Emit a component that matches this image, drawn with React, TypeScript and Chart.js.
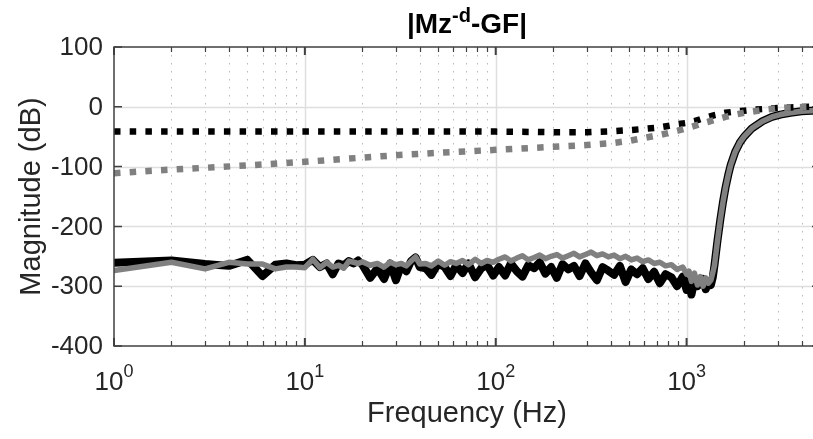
import React, { useEffect, useRef } from "react";
import { Chart, registerables } from "chart.js";
Chart.register(...registerables);

// ---------- data ----------
const solidFreq = [
  1, 2, 3, 4, 5, 6, 7, 8, 9, 10, 11, 12, 13, 14, 15, 16, 17, 18, 19, 20,
  22, 24, 26, 28, 30, 32, 34, 36, 38, 40,
  43, 46, 50, 54, 58, 62, 67, 72, 78, 84, 90, 97,
  104, 112, 120, 129, 138, 148, 159, 170, 182, 195, 209, 224, 240, 257, 275, 295, 316, 339, 363, 389,
  417, 447, 479, 513, 550, 589, 631, 676, 724, 776, 832, 891, 955, 1000, 1030, 1060, 1100, 1140, 1180,
  1220, 1260, 1300, 1340, 1370,
  1400, 1450, 1500, 1550, 1600, 1650, 1700, 1800, 1900, 2000, 2200, 2500, 2800, 3100, 3500, 4000, 4500, 5000,
];
const blackSolid = [
  -261, -257, -263, -266, -256, -283, -264, -262, -265, -264, -256, -268, -262, -280, -262, -265, -258, -262, -257, -264,
  -286, -270, -288, -262, -290, -265, -275, -258, -252, -268,
  -270, -281, -262, -268, -283, -265, -278, -262, -285, -270, -264, -282,
  -268, -282, -262, -275, -284, -265, -270, -260, -279, -268, -286, -263, -272, -266, -283, -262, -277, -290, -268, -274,
  -281, -266, -293, -272, -280, -270, -288, -276, -295, -280, -285, -300, -284, -306, -292, -314, -290, -300, -295,
  -288, -305, -292, -298, -286,
  -265, -225, -190, -160, -135, -115, -98, -75, -60, -50, -36, -24, -17, -13, -10, -7.5, -6.5, -6,
];
const graySolid = [
  -274, -260, -271, -260, -263, -263, -271, -268, -268, -269, -255, -269, -260, -268, -265, -270, -258, -260, -262, -259,
  -265, -262, -268, -260, -264, -262, -266, -258, -251, -263,
  -262, -266, -258, -265, -259, -262, -257, -264, -255, -262, -257, -260,
  -255, -251, -258, -253, -249, -256, -252, -248, -254, -250, -247, -253, -249, -245, -251, -247, -243, -249, -246, -251,
  -248, -254, -250, -256, -253, -259, -256, -262, -260, -266, -264, -272, -268, -280, -275, -292, -278, -298, -284,
  -300, -286, -295, -290, -278,
  -265, -225, -190, -160, -135, -115, -98, -75, -60, -50, -36, -24, -17, -13, -10, -7.5, -6.5, -6,
];
const dotFreq = [
  1, 2, 3, 5, 10, 20, 30, 50, 100, 150, 200, 300, 400, 500, 600, 700, 800, 900, 1000,
  1100, 1200, 1300, 1400, 1500, 1600, 1800, 2000, 2200, 2600, 3000, 3500, 4000, 4500, 5000,
];
const blackDotted = [
  -41.5, -41.5, -41.5, -41.5, -41.5, -41.5, -41.5, -41.5, -41.5, -42, -42.5, -42.5, -41, -39, -37, -35, -32, -29, -27,
  -24, -20, -17, -14, -12, -10, -8, -6.5, -5, -3.5, -2, -1, -0.5, 0, 0,
];
const grayDotted = [
  -111, -105, -102, -98, -92, -85, -81, -77, -72, -69, -67, -64, -61, -57, -52, -48, -44, -40, -36,
  -32, -28, -25, -22, -19.5, -17, -13, -10, -8, -4.5, -2.5, -1, -0.5, 0, 0,
];
const yTicks = [100, 0, -100, -200, -300, -400];
const xDecades = [1, 10, 100, 1000];
const xDecadeExps = ["0", "1", "2", "3"];
const xMinorMult = [2, 3, 4, 5, 6, 7, 8, 9];
const titleParts = ["|Mz", "-d", "-GF|"];
const xLabel = "Frequency (Hz)";
const yLabel = "Magnitude (dB)";

const FONT = '"Liberation Sans", Arial, Helvetica, sans-serif';
const TICK_SIZE = 26;
const LABEL_SIZE = 29;
const TITLE_SIZE = 28;
const AX_COLOR = "#404040";
const TXT_COLOR = "#262626";

const pts = (xs: number[], ys: number[]) => xs.map((x, i) => ({ x, y: ys[i] }));

const matlabPlugin = {
  id: "matlabAxes",
  beforeDatasetsDraw(chart: any) {
    const { ctx, chartArea: a, scales } = chart;
    const x = scales.x, y = scales.y;
    ctx.save();
    ctx.strokeStyle = "#b8b8b8";
    ctx.lineWidth = 1;
    ctx.setLineDash([1.5, 6.5]);
    for (const d of xDecades) {
      for (const m of xMinorMult) {
        const v = d * m;
        if (v >= 5000) continue;
        const px = Math.round(x.getPixelForValue(v)) + 0.5;
        ctx.beginPath();
        ctx.moveTo(px, a.top);
        ctx.lineTo(px, a.bottom);
        ctx.stroke();
      }
    }
    ctx.setLineDash([]);
    ctx.strokeStyle = "#dedede";
    ctx.lineWidth = 1.5;
    for (const d of xDecades) {
      if (d === 1) continue;
      const px = Math.round(x.getPixelForValue(d)) + 0.5;
      ctx.beginPath();
      ctx.moveTo(px, a.top);
      ctx.lineTo(px, a.bottom);
      ctx.stroke();
    }
    for (const t of yTicks) {
      if (t === 100 || t === -400) continue;
      const py = Math.round(y.getPixelForValue(t)) + 0.5;
      ctx.beginPath();
      ctx.moveTo(a.left, py);
      ctx.lineTo(a.right, py);
      ctx.stroke();
    }
    ctx.restore();
  },
  afterDatasetsDraw(chart: any) {
    const { ctx, chartArea: a, scales } = chart;
    const x = scales.x, y = scales.y;
    ctx.save();
    ctx.strokeStyle = AX_COLOR;
    ctx.lineWidth = 1.5;
    ctx.strokeRect(a.left, a.top, a.right - a.left, a.bottom - a.top);
    for (const d of xDecades) {
      const px = x.getPixelForValue(d);
      ctx.lineWidth = 2;
      ctx.beginPath();
      ctx.moveTo(px, a.bottom);
      ctx.lineTo(px, a.bottom - 8);
      ctx.moveTo(px, a.top);
      ctx.lineTo(px, a.top + 8);
      ctx.stroke();
      ctx.lineWidth = 1.2;
      for (const m of xMinorMult) {
        const v = d * m;
        if (v >= 5000) continue;
        const qx = Math.round(x.getPixelForValue(v)) + 0.5;
        ctx.beginPath();
        ctx.moveTo(qx, a.bottom);
        ctx.lineTo(qx, a.bottom - 5);
        ctx.moveTo(qx, a.top);
        ctx.lineTo(qx, a.top + 5);
        ctx.stroke();
      }
    }
    ctx.lineWidth = 1.5;
    for (const t of yTicks) {
      const py = y.getPixelForValue(t);
      ctx.beginPath();
      ctx.moveTo(a.left, py);
      ctx.lineTo(a.left + 8, py);
      ctx.moveTo(a.right, py);
      ctx.lineTo(a.right - 8, py);
      ctx.stroke();
    }
    ctx.restore();
  },
  afterDraw(chart: any) {
    const { ctx, chartArea: a, scales } = chart;
    const x = scales.x, y = scales.y;
    ctx.save();
    ctx.fillStyle = TXT_COLOR;
    ctx.font = `${TICK_SIZE}px ${FONT}`;
    ctx.textAlign = "right";
    ctx.textBaseline = "middle";
    for (const t of yTicks) {
      ctx.fillText(String(t), a.left - 11, y.getPixelForValue(t) + 1);
    }
    ctx.textAlign = "left";
    ctx.textBaseline = "alphabetic";
    const supSize = Math.round(TICK_SIZE * 0.7);
    xDecades.forEach((d, i) => {
      const px = x.getPixelForValue(d);
      ctx.font = `${TICK_SIZE}px ${FONT}`;
      const w1 = ctx.measureText("10").width;
      ctx.font = `${supSize}px ${FONT}`;
      const w2 = ctx.measureText(xDecadeExps[i]).width;
      const start = px - (w1 + w2) / 2;
      ctx.font = `${TICK_SIZE}px ${FONT}`;
      ctx.fillText("10", start, a.bottom + 44);
      ctx.font = `${supSize}px ${FONT}`;
      ctx.fillText(xDecadeExps[i], start + w1, a.bottom + 31);
    });
    ctx.font = `${LABEL_SIZE}px ${FONT}`;
    ctx.textAlign = "center";
    ctx.fillText(xLabel, (a.left + a.right) / 2, a.bottom + 76);
    ctx.save();
    ctx.translate(32, (a.top + a.bottom) / 2);
    ctx.rotate(-Math.PI / 2);
    ctx.textBaseline = "middle";
    ctx.fillText(yLabel, 0, 0);
    ctx.restore();
    ctx.fillStyle = "#000";
    ctx.textAlign = "left";
    ctx.textBaseline = "alphabetic";
    const tSup = Math.round(TITLE_SIZE * 0.7);
    ctx.font = `bold ${TITLE_SIZE}px ${FONT}`;
    const t1 = ctx.measureText(titleParts[0]).width;
    const t3 = ctx.measureText(titleParts[2]).width;
    ctx.font = `bold ${tSup}px ${FONT}`;
    const t2 = ctx.measureText(titleParts[1]).width;
    let sx = (a.left + a.right) / 2 - (t1 + t2 + t3) / 2;
    const by = 33;
    ctx.font = `bold ${TITLE_SIZE}px ${FONT}`;
    ctx.fillText(titleParts[0], sx, by);
    sx += t1;
    ctx.font = `bold ${tSup}px ${FONT}`;
    ctx.fillText(titleParts[1], sx, by - 11);
    sx += t2;
    ctx.font = `bold ${TITLE_SIZE}px ${FONT}`;
    ctx.fillText(titleParts[2], sx, by);
    ctx.restore();
  },
};

export default function App() {
  const ref = useRef<HTMLCanvasElement>(null);
  useEffect(() => {
    const chart = new Chart(ref.current as HTMLCanvasElement, {
      type: "line",
      data: {
        datasets: [
          {
            data: pts(solidFreq, blackSolid),
            borderColor: "#000000",
            borderWidth: 8,
            pointRadius: 0,
            borderJoinStyle: "round",
            borderCapStyle: "round",
            order: 4,
          },
          {
            data: pts(solidFreq, graySolid),
            borderColor: "#808080",
            borderWidth: 5.5,
            pointRadius: 0,
            borderJoinStyle: "round",
            borderCapStyle: "round",
            order: 3,
          },
          {
            data: pts(dotFreq, blackDotted),
            borderColor: "#000000",
            borderWidth: 6.5,
            borderDash: [6.5, 9.2],
            borderCapStyle: "butt",
            pointRadius: 0,
            order: 2,
          },
          {
            data: pts(dotFreq, grayDotted),
            borderColor: "#808080",
            borderWidth: 6.5,
            borderDash: [6.5, 9.2],
            borderCapStyle: "butt",
            pointRadius: 0,
            order: 1,
          },
        ],
      },
      options: {
        animation: false,
        responsive: false,
        devicePixelRatio: 1,
        clip: { left: 0, top: 4, right: 0, bottom: 4 } as any,
        layout: { padding: { left: 114, right: 0, top: 47, bottom: 93 } },
        plugins: { legend: { display: false }, tooltip: { enabled: false }, title: { display: false } },
        scales: {
          x: { type: "logarithmic", min: 1, max: 5000, display: false },
          y: { type: "linear", min: -400, max: 100, display: false },
        },
      },
      plugins: [matlabPlugin],
    } as any);
    return () => chart.destroy();
  }, []);
  return (
    <div
      style={{
        position: "absolute",
        left: 0,
        top: 0,
        width: 813,
        height: 439,
        overflow: "hidden",
        background: "#ffffff",
      }}
    >
      <canvas ref={ref} width={820} height={439} style={{ display: "block", width: 820, height: 439 }} />
    </div>
  );
}
